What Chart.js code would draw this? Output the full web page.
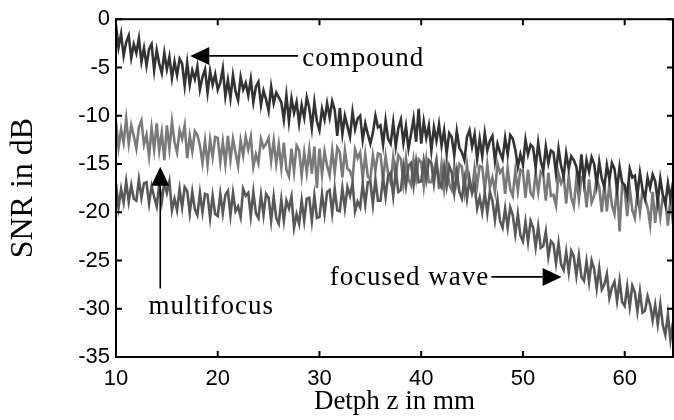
<!DOCTYPE html>
<html>
<head>
<meta charset="utf-8">
<script src="https://cdn.jsdelivr.net/npm/chart.js@4.4.1/dist/chart.umd.min.js"></script>
<style>
  html, body { margin: 0; padding: 0; background: #fff; }
  #wrap { width: 674px; height: 420px; }
</style>
</head>
<body>
<div id="wrap"><canvas id="chart" width="674" height="420"></canvas></div>
<script>
// depth samples: 10 mm to 64.75 mm, every 0.25 mm
const depthStart = 10;
const depthStep = 0.25;

// SNR in dB (4 samples per mm)
const compound = [
    -0.6, -2.9, -1.5, -3.8,  -2.4, -1.7, -4.0, -2.6,  -3.5, -2.0, -4.4, -3.0,
    -4.8, -3.1, -2.6, -5.3,  -3.2, -4.6, -5.6, -3.5,  -5.2, -3.9, -6.1, -4.4,
    -5.8, -4.1, -4.6, -6.9,  -4.5, -6.8, -5.3, -6.2,  -4.9, -7.3, -6.0, -5.2,
    -7.6, -5.4, -6.8, -5.7,  -7.3, -6.6, -5.1, -8.0,  -6.3, -8.2, -5.8, -7.5,
    -8.4, -6.0, -7.3, -6.6,  -7.9, -6.2, -8.6, -7.0,  -6.5, -8.9, -7.4, -8.3,
    -9.5, -7.0, -8.7, -7.6,  -8.1, -8.6, -10.4, -7.9,  -10.6, -8.2, -9.7, -8.6,
    -10.8, -8.9, -10.2, -8.1,  -9.2, -11.3, -8.6, -10.6,  -11.5, -9.3, -10.4, -8.7,
    -10.2, -8.5, -9.4, -12.1,  -9.2, -11.9, -10.0, -11.1,  -12.2, -9.6, -11.4, -10.3,
    -10.0, -12.5, -10.8, -11.9,  -12.9, -11.8, -10.0, -11.2,  -11.0, -13.0, -10.5, -12.4,
    -12.9, -10.7, -13.2, -11.3,  -10.4, -12.8, -11.1, -13.4,  -11.9, -10.3, -12.7, -9.3,
    -12.9, -10.6, -12.3, -11.0,  -13.6, -11.2, -12.6, -10.9,  -13.1, -11.5, -13.9, -11.8,
    -12.2, -14.1, -11.6, -13.3,  -13.8, -14.6, -12.2, -11.5,  -13.2, -11.9, -14.5, -12.4,
    -14.2, -11.8, -13.6, -12.6,  -12.1, -14.7, -12.9, -13.8,  -14.5, -12.3, -14.0, -12.0,
    -12.4, -13.5, -15.3, -14.0,  -15.1, -12.5, -14.0, -13.0,  -13.3, -15.4, -12.8, -14.7,
    -15.7, -13.2, -14.9, -13.6,  -13.8, -16.0, -13.4, -15.2,  -16.3, -13.9, -15.5, -14.2,
    -14.6, -15.3, -16.9, -14.0,  -16.8, -14.6, -15.8, -14.3,  -15.0, -17.1, -14.8, -16.5,
    -17.4, -15.1, -16.6, -14.9,  -15.5, -17.7, -15.3, -16.9,  -17.2, -18.3, -15.5, -16.4,
    -16.2, -18.3, -15.9, -17.6,  -18.6, -16.4, -17.5, -16.1,  -16.8, -18.9, -16.5, -18.2,
    -19.2, -17.0, -18.6, -16.9
];
const multifocus = [
    -10.6, -13.3, -11.4, -12.8,  -10.3, -12.9, -11.0, -12.1,  -13.4, -11.2, -10.5, -13.0,
    -12.0, -14.2, -11.3, -13.5,  -10.8, -13.6, -11.7, -14.6,  -11.0, -13.4, -10.6, -12.7,
    -13.8, -11.5, -12.4, -11.0,  -14.4, -12.1, -13.7, -11.6,  -12.0, -13.1, -14.9, -12.6,
    -15.1, -12.5, -14.3, -12.2,  -12.3, -14.8, -12.7, -15.0,  -12.1, -14.6, -12.4, -13.8,
    -15.2, -12.6, -14.1, -12.2,  -13.5, -12.2, -15.3, -14.0,  -14.9, -12.4, -13.3, -12.9,
    -12.3, -14.7, -12.6, -15.0,  -13.0, -15.4, -12.8, -15.6,  -16.3, -13.4, -15.8, -13.1,
    -13.6, -16.2, -13.8, -15.9,  -13.5, -16.0, -13.2, -17.5,  -13.4, -16.1, -13.7, -15.2,
    -16.2, -13.6, -15.9, -13.3,  -13.8, -16.4, -13.6, -15.5,  -15.7, -16.6, -13.5, -14.4,
    -13.8, -16.5, -14.0, -16.3,  -16.6, -14.1, -15.7, -13.9,  -14.0, -16.7, -14.2, -16.0,
    -16.9, -14.3, -16.4, -14.1,  -14.5, -17.0, -14.4, -16.6,  -17.2, -14.6, -16.5, -14.5,
    -14.8, -17.3, -14.6, -16.9,  -16.9, -15.6, -14.6, -17.6,  -15.0, -17.5, -14.8, -17.1,
    -17.7, -15.2, -16.9, -15.0,  -15.3, -17.8, -15.1, -17.3,  -17.9, -15.4, -17.2, -15.2,
    -15.3, -17.8, -15.1, -17.4,  -16.4, -17.9, -15.0, -15.9,  -15.5, -18.1, -15.4, -17.6,
    -18.3, -15.7, -17.8, -15.6,  -15.8, -18.5, -15.6, -18.0,  -18.4, -15.9, -17.9, -15.8,
    -16.1, -18.8, -15.9, -18.3,  -18.2, -19.3, -16.0, -17.0,  -16.3, -19.1, -16.2, -18.5,
    -19.4, -16.5, -18.7, -16.4,  -16.7, -19.5, -16.6, -19.0,  -18.3, -16.5, -17.4, -20.0,
    -17.1, -19.9, -17.0, -19.3,  -20.2, -17.3, -22.0, -17.2,  -17.7, -20.4, -17.5, -19.8,
    -20.6, -17.9, -20.0, -17.8,  -18.6, -19.5, -21.3, -17.9,  -21.1, -18.4, -20.5, -18.3,
    -18.7, -21.4, -18.6, -21.2
];
const focusedWave = [
    -17.0, -19.5, -17.6, -19.0,  -16.8, -18.9, -17.2, -18.6,  -18.8, -16.6, -18.5, -17.0,
    -16.9, -19.1, -17.3, -18.4,  -19.4, -17.1, -18.9, -16.9,  -18.0, -16.8, -19.8, -18.6,
    -19.8, -17.6, -19.5, -17.4,  -17.8, -20.1, -17.9, -19.7,  -20.3, -18.0, -20.0, -18.1,
    -18.2, -20.6, -18.3, -20.2,  -20.4, -18.1, -20.1, -18.2,  -17.8, -20.3, -18.0, -19.9,
    -19.4, -20.5, -17.6, -18.3,  -18.0, -20.4, -17.9, -20.1,  -20.6, -18.2, -20.3, -18.1,
    -18.5, -20.9, -18.4, -20.6,  -21.2, -18.7, -20.9, -18.8,  -19.6, -18.4, -21.6, -20.2,
    -21.2, -18.8, -20.9, -18.6,  -18.5, -20.9, -18.3, -20.6,  -20.5, -18.1, -20.2, -17.9,
    -17.7, -20.1, -17.6, -19.8,  -19.9, -17.5, -19.6, -17.4,  -18.3, -17.0, -19.9, -18.9,
    -19.5, -17.1, -19.2, -16.9,  -16.8, -19.2, -16.6, -18.8,  -18.8, -16.4, -18.4, -16.2,
    -15.9, -18.3, -15.7, -17.9,  -17.7, -15.3, -17.3, -15.2,  -14.9, -17.2, -14.8, -16.9,
    -16.8, -14.7, -16.6, -14.6,  -14.9, -17.0, -14.8, -16.9,  -17.4, -15.3, -17.3, -15.2,
    -15.9, -18.0, -15.8, -17.9,  -18.6, -16.6, -18.6, -16.5,  -18.0, -17.1, -19.6, -18.5,
    -20.0, -18.0, -20.1, -17.9,  -18.8, -20.8, -18.7, -20.9,  -21.6, -19.6, -21.6, -19.5,
    -20.3, -22.3, -20.2, -22.4,  -23.0, -21.0, -23.1, -20.9,  -21.6, -23.6, -21.5, -23.7,
    -23.5, -22.0, -24.6, -23.0,  -23.3, -25.3, -23.2, -25.4,  -26.0, -24.1, -26.2, -24.0,
    -24.6, -26.6, -24.5, -26.7,  -27.1, -25.1, -27.2, -25.0,  -25.9, -27.9, -25.8, -28.0,
    -27.5, -26.4, -28.9, -27.8,  -27.2, -29.2, -27.1, -29.3,  -29.7, -27.7, -29.8, -27.6,
    -28.3, -30.3, -28.2, -30.4,  -30.2, -28.7, -29.6, -31.2,  -29.6, -31.6, -29.5, -31.7,
    -32.7, -30.6, -33.2, -31.4
];

const xTicks = [10, 20, 30, 40, 50, 60];

// text labels with arrows, in data units (mm, dB)
const notes = [
    { text: "compound", tx: 28.3, ty: -4.8, from: [27.9, -3.8], to: [17.3, -3.8] },
    { text: "multifocus", tx: 13.2, ty: -30.5, from: [14.35, -27.9], to: [14.35, -15.3] },
    { text: "focused wave", tx: 31.0, ty: -27.5, from: [46.9, -26.7], to: [53.8, -26.7] }
];

const toPoints = (vals) => vals.map((y, i) => ({ x: depthStart + i * depthStep, y }));

const serif = "'Liberation Serif', 'Times New Roman', serif";
const sans = "'Liberation Sans', Arial, sans-serif";

// box around the plot with inward ticks on every side (MATLAB look)
const boxPlugin = {
    id: "box",
    afterDatasetsDraw(chart) {
        const { ctx, chartArea: a, scales } = chart;
        const len = 6;
        ctx.save();
        ctx.strokeStyle = "#000";
        ctx.lineWidth = 2;
        ctx.strokeRect(a.left, a.top, a.right - a.left, a.bottom - a.top);
        ctx.beginPath();
        scales.x.ticks.forEach((t) => {
            const px = scales.x.getPixelForValue(t.value);
            ctx.moveTo(px, a.bottom); ctx.lineTo(px, a.bottom - len);
            ctx.moveTo(px, a.top); ctx.lineTo(px, a.top + len);
        });
        scales.y.ticks.forEach((t) => {
            const py = scales.y.getPixelForValue(t.value);
            ctx.moveTo(a.left, py); ctx.lineTo(a.left + len, py);
            ctx.moveTo(a.right, py); ctx.lineTo(a.right - len, py);
        });
        ctx.stroke();
        ctx.restore();
    }
};

const arrowPlugin = {
    id: "arrows",
    afterDraw(chart) {
        const { ctx, scales: { x, y } } = chart;
        ctx.save();
        ctx.fillStyle = "#000";
        ctx.strokeStyle = "#000";
        ctx.lineWidth = 1.6;
        ctx.font = "27px " + serif;
        ctx.letterSpacing = "1px";
        ctx.textBaseline = "alphabetic";
        notes.forEach((n) => {
            ctx.fillText(n.text, x.getPixelForValue(n.tx), y.getPixelForValue(n.ty));
            const x0 = x.getPixelForValue(n.from[0]), y0 = y.getPixelForValue(n.from[1]);
            const x1 = x.getPixelForValue(n.to[0]), y1 = y.getPixelForValue(n.to[1]);
            const ang = Math.atan2(y1 - y0, x1 - x0);
            const head = 19, half = 9;
            const bx = x1 - head * Math.cos(ang), by = y1 - head * Math.sin(ang);
            ctx.beginPath();
            ctx.moveTo(x0, y0);
            ctx.lineTo(bx, by);
            ctx.stroke();
            ctx.beginPath();
            ctx.moveTo(x1, y1);
            ctx.lineTo(bx + half * Math.sin(ang), by - half * Math.cos(ang));
            ctx.lineTo(bx - half * Math.sin(ang), by + half * Math.cos(ang));
            ctx.closePath();
            ctx.fill();
        });
        ctx.restore();
    }
};

const line = (label, vals, color) => ({
    label,
    data: toPoints(vals),
    borderColor: color,
    borderWidth: 2.6,
    pointRadius: 0,
    tension: 0,
    fill: false
});

new Chart(document.getElementById("chart"), {
    type: "line",
    data: {
        datasets: [
            line("compound", compound, "#333333"),
            line("focused wave", focusedWave, "#585858"),
            line("multifocus", multifocus, "#7a7a7a")
        ]
    },
    options: {
        responsive: false,
        animation: false,
        events: [],
        layout: { padding: { top: 16, right: 1, left: 0, bottom: 0 } },
        plugins: { legend: { display: false }, tooltip: { enabled: false } },
        scales: {
            x: {
                type: "linear",
                min: 10,
                max: 64.75,
                afterBuildTicks: (s) => { s.ticks = xTicks.map((v) => ({ value: v })); },
                afterFit: (s) => { s.height = 63; },
                grid: { display: false, drawTicks: false },
                border: { display: false },
                ticks: {
                    padding: 9,
                    color: "#000",
                    font: { family: sans, size: 22 },
                    maxRotation: 0
                },
                title: {
                    display: true,
                    text: "Detph z in mm",
                    color: "#000",
                    font: { family: serif, size: 27 },
                    padding: { top: 0, bottom: 2 }
                }
            },
            y: {
                type: "linear",
                min: -35,
                max: 0,
                afterFit: (s) => { s.width = 116; },
                grid: { display: false, drawTicks: false },
                border: { display: false },
                ticks: {
                    stepSize: 5,
                    padding: 6,
                    color: "#000",
                    font: { family: sans, size: 22 }
                },
                title: {
                    display: true,
                    text: "SNR in dB",
                    color: "#000",
                    font: { family: serif, size: 32 },
                    padding: { top: 4, bottom: 0 }
                }
            }
        }
    },
    plugins: [boxPlugin, arrowPlugin]
});
</script>
</body>
</html>
